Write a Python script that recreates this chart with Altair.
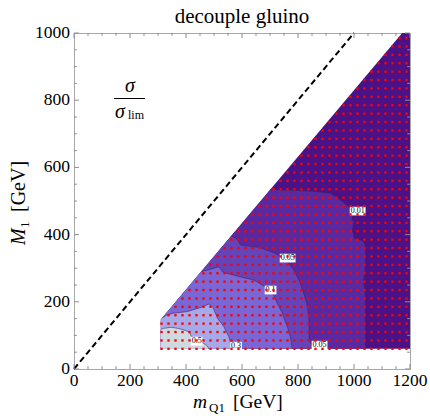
import altair as alt
import numpy as np
import pandas as pd

# ---------------- data ----------------
TITLE = "decouple gluino"
X_LABELS = [0, 200, 400, 600, 800, 1000, 1200]
Y_LABELS = [0, 200, 400, 600, 800, 1000]
X_MINOR = [v for v in range(0, 1201, 50) if v % 200]
Y_MINOR = [v for v in range(0, 1001, 50) if v % 200]

DIAG_X = [0, 1000]
DIAG_Y = [0, 1000]

# edge of the scanned region (left edge + kinematic diagonal)
DOMAIN_Y = [60, 147, 1000]
DOMAIN_XL = [310, 310, 1172]
X_END = 1200

# contour regions: rows Y, right edge XR, left edge XL (0 = region edge)
C001_Y = [60, 205, 225, 255, 265, 304, 364, 379, 384, 389, 394, 414, 438, 443, 458, 483, 503, 523, 526, 528, 531, 533, 535]
C001_XR = [1041, 1041, 1041, 1035, 1035, 1041, 1041, 1035, 1024, 1000, 1000, 994, 1000, 994, 994, 982, 952, 916, 885, 868, 809, 740, 702]

C005_Y = [60, 70, 85, 116, 156, 196, 225, 260, 295, 324, 346, 362, 369, 376, 388, 396]
C005_XR = [870, 850, 840, 840, 839, 831, 821, 806, 785, 758, 715, 660, 595, 590, 580, 560]

C01_Y = [60, 96, 126, 147, 166, 196, 225, 247, 265, 275, 285, 290, 297, 304]
C01_XR = [779, 773, 762, 752, 744, 726, 710, 678, 642, 590, 545, 530, 524, 517]
C01_XL = [0, 0, 0, 0, 0, 0, 0, 0, 0, 0, 0, 0, 488, 517]

C03_Y = [60, 96, 126, 146, 152, 160, 166, 171, 181, 186, 193]
C03_XR = [565, 553, 535, 517, 512, 508, 505, 502, 498, 494, 481]
C03_XL = [0, 0, 0, 0, 0, 330, 355, 405, 445, 462, 480]

C05_Y = [60, 66, 76, 86, 96, 111, 118, 121, 124]
C05_XR = [481, 478, 464, 440, 420, 410, 386, 370, 350]
C05_XL = [0, 0, 0, 0, 0, 0, 0, 320, 345]

LEVEL_COLORS = ["#4A1286", "#5A29A0", "#6743B8", "#7A66D4", "#A5A9EA", "#CFD9E0"]

LBL_TEXT = ["0.01", "0.05", "0.1", "0.05", "0.3", "0.5"]
LBL_X = [1013, 763, 702, 877, 579, 438]
LBL_Y = [470, 330, 235, 71, 68, 83]

GRID_X = np.arange(312.5, 1200, 25)
GRID_Y = np.arange(60, 1000, 25)

# ---------------- helpers ----------------
W, H = 336, 336
xs = alt.Scale(domain=[0, 1200], nice=False, zero=False)
ys = alt.Scale(domain=[0, 1000], nice=False, zero=False)
FONT = "Liberation Serif"


def edge(y):
    return np.interp(y, DOMAIN_Y, DOMAIN_XL)


def region(Y, XR, XL=None):
    Y = np.asarray(Y, float)
    if XL is None:
        XL = np.zeros_like(Y)
    xl = np.maximum(np.asarray(XL, float), edge(Y))
    xr = np.maximum(np.asarray(XR, float), xl)
    return pd.DataFrame({"Y": Y, "xl": xl, "xr": xr, "dom": edge(Y)})


regions = [
    region(DOMAIN_Y, [X_END] * len(DOMAIN_Y)),
    region(C001_Y, C001_XR),
    region(C005_Y, C005_XR),
    region(C01_Y, C01_XR, C01_XL),
    region(C03_Y, C03_XR, C03_XL),
    region(C05_Y, C05_XR, C05_XL),
]

layers = []
for df, col in zip(regions, LEVEL_COLORS):
    layers.append(alt.Chart(df).mark_area(orient="horizontal", color=col, opacity=1)
                  .encode(y=alt.Y("Y:Q", scale=ys, axis=None),
                          x=alt.X("xl:Q", scale=xs, axis=None), x2="xr:Q"))

# contour lines
rows = []
for cid, df in enumerate(regions[1:]):
    k = 0
    for _, r in df.iterrows():
        rows.append({"cid": cid, "ord": k, "X": r.xr, "Y": r.Y}); k += 1
    n = k
    for _, r in df.iloc[::-1].iterrows():
        if r.xl > r.dom + 0.5:
            rows.append({"cid": cid, "ord": k, "X": r.xl, "Y": r.Y}); k += 1
        else:
            if k > n:
                rows.append({"cid": cid, "ord": k, "X": r.xl, "Y": r.Y}); k += 1
            break
lines_df = pd.DataFrame(rows)
layers.append(alt.Chart(lines_df).mark_line(color="#35205F", strokeWidth=0.8, opacity=0.7).encode(
    x=alt.X("X:Q", scale=xs, axis=None), y=alt.Y("Y:Q", scale=ys, axis=None),
    detail="cid:N", order="ord:Q"))

# contour labels
lbl = pd.DataFrame({"t": LBL_TEXT, "X": LBL_X, "Y": LBL_Y})
lbl["box"] = ["M-1,-0.55H1V0.55H-1Z" if len(t) > 3 else "M-0.74,-0.55H0.74V0.55H-0.74Z" for t in LBL_TEXT]
layers.append(alt.Chart(lbl).mark_point(filled=True, color="white", opacity=1, size=250, strokeWidth=0).encode(
    x=alt.X("X:Q", scale=xs, axis=None), y=alt.Y("Y:Q", scale=ys, axis=None),
    shape=alt.Shape("box:N", scale=None)))
layers.append(alt.Chart(lbl).mark_text(font=FONT, fontSize=8, color="black", baseline="middle").encode(
    x=alt.X("X:Q", scale=xs, axis=None), y=alt.Y("Y:Q", scale=ys, axis=None), text="t:N"))

# sample points
gx, gy = np.meshgrid(GRID_X, GRID_Y)
pts = pd.DataFrame({"X": gx.ravel(), "Y": gy.ravel()})
pts = pts[pts.X >= edge(pts.Y) - 1]
layers.append(alt.Chart(pts).mark_square(size=5.5, color="#FF0000", opacity=1).encode(
    x=alt.X("X:Q", scale=xs, axis=None), y=alt.Y("Y:Q", scale=ys, axis=None)))

# dashed diagonal
diag = pd.DataFrame({"X": DIAG_X, "Y": DIAG_Y})
layers.append(alt.Chart(diag).mark_line(color="black", strokeWidth=2, strokeDash=[6, 3.5]).encode(
    x=alt.X("X:Q", scale=xs, axis=None), y=alt.Y("Y:Q", scale=ys, axis=None)))

# frame ticks (pointing inward)
TICK_COL = "#8C8C8C"
for vals, L in ((X_LABELS, 5), (X_MINOR, 2.8)):
    d = pd.DataFrame({"v": vals})
    layers.append(alt.Chart(d).mark_rule(color=TICK_COL, strokeWidth=1).encode(
        x=alt.X("v:Q", scale=xs, axis=None), y=alt.value(H), y2=alt.value(H - L)))
    layers.append(alt.Chart(d).mark_rule(color=TICK_COL, strokeWidth=1).encode(
        x=alt.X("v:Q", scale=xs, axis=None), y=alt.value(0), y2=alt.value(L)))
for vals, L in ((Y_LABELS, 5), (Y_MINOR, 2.8)):
    d = pd.DataFrame({"v": vals})
    layers.append(alt.Chart(d).mark_rule(color=TICK_COL, strokeWidth=1).encode(
        y=alt.Y("v:Q", scale=ys, axis=None), x=alt.value(0), x2=alt.value(L)))
    layers.append(alt.Chart(d).mark_rule(color=TICK_COL, strokeWidth=1).encode(
        y=alt.Y("v:Q", scale=ys, axis=None), x=alt.value(W), x2=alt.value(W - L)))

# tick labels
xl_df = pd.DataFrame({"v": X_LABELS, "s": [str(v) for v in X_LABELS]})
layers.append(alt.Chart(xl_df).mark_text(font=FONT, fontSize=17.5, color="black", align="center",
                                         baseline="alphabetic").encode(
    x=alt.X("v:Q", scale=xs, axis=None), y=alt.value(H + 17), text="s:N"))
yl_df = pd.DataFrame({"v": Y_LABELS, "s": [str(v) for v in Y_LABELS]})
layers.append(alt.Chart(yl_df).mark_text(font=FONT, fontSize=17.5, color="black", align="right",
                                         baseline="middle").encode(
    y=alt.Y("v:Q", scale=ys, axis=None), x=alt.value(-4), text="s:N"))


def txt(s, x, y, size, italic=False, angle=0, align="left"):
    return alt.Chart(alt.Data(values=[{}])).mark_text(
        text=s, font=FONT, fontSize=size, fontStyle="italic" if italic else "normal",
        angle=angle, align=align, baseline="alphabetic", color="black").encode(
        x=alt.value(x), y=alt.value(y))


# title and axis titles
layers.append(txt(TITLE, W / 2, -10, 21, align="center"))
layers.append(txt("m", 119, 375, 19.5, italic=True))
layers.append(txt("Q1", 135, 379, 13))
layers.append(txt("[GeV]", 159, 375, 19.5))
layers.append(txt("M", -49, 212, 20, italic=True, angle=270))
layers.append(txt("1", -45, 195, 13, angle=270))
layers.append(txt("[GeV]", -49, 179, 20, angle=270))

# sigma / sigma_lim annotation
layers.append(txt("σ", 56, 59, 20, italic=True, align="center"))
layers.append(alt.Chart(alt.Data(values=[{}])).mark_rule(color="black", strokeWidth=1).encode(
    x=alt.value(40), x2=alt.value(71), y=alt.value(65.5)))
layers.append(txt("σ", 41, 85, 20, italic=True))
layers.append(txt("lim", 54, 86, 12))

chart = alt.layer(*layers).properties(
    width=W, height=H,
    padding={"left": 74, "top": 33, "right": 20, "bottom": 49},
    autosize=alt.AutoSizeParams(type="none"),
).configure_view(stroke="#A8A8A8", strokeWidth=1)

chart.save("out.html", embed_options={"renderer": "svg", "actions": False})
